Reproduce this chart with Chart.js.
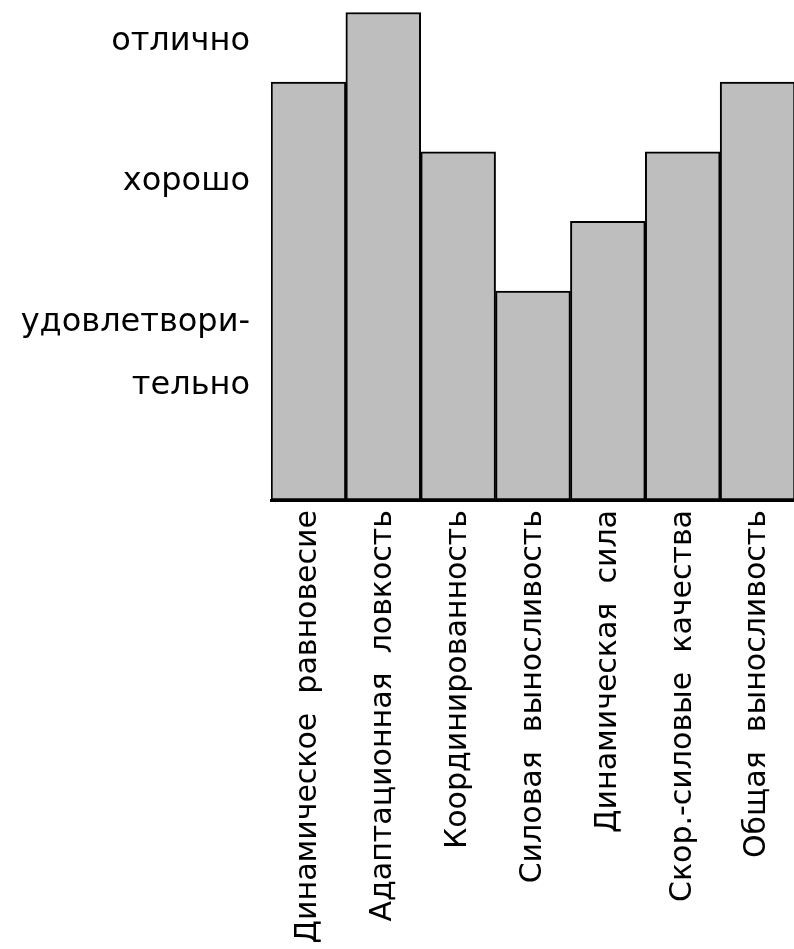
<!DOCTYPE html>
<html>
<head>
<meta charset="utf-8">
<script src="https://cdn.jsdelivr.net/npm/chart.js@4/dist/chart.umd.min.js"></script>
<style>
  html, body { margin: 0; padding: 0; background: #fff; overflow: hidden; }
  #wrap { width: 820px; height: 949px; }
</style>
</head>
<body>
<div id="wrap"><canvas id="chart" width="820" height="949"></canvas></div>
<script>
// качества и оценки
const categories = [
  'Динамическое  равновесие',
  'Адаптационная  ловкость',
  'Координированность',
  'Силовая  выносливость',
  'Динамическая  сила',
  'Скор.-силовые  качества',
  'Общая  выносливость'
];
const scores = [6, 7, 5, 3, 4, 5, 6];

// подписи оси оценок (снизу вверх)
const gradeTicks = [2.1, 4.57, 6.58];
const gradeLabels = [['удовлетвори-', 'тельно'], 'хорошо', 'отлично'];

const FONT = "'DejaVu Sans', sans-serif";

const ctx = document.getElementById('chart').getContext('2d');
new Chart(ctx, {
  type: 'bar',
  data: {
    labels: categories,
    datasets: [{
      data: scores,
      backgroundColor: '#bebebe',
      borderColor: '#000',
      borderWidth: 2,
      borderSkipped: false,
      barPercentage: 1,
      categoryPercentage: 1
    }]
  },
  options: {
    responsive: false,
    animation: false,
    layout: { padding: { top: 0, right: 25, left: 0, bottom: 0 } },
    plugins: { legend: { display: false }, tooltip: { enabled: false } },
    scales: {
      x: {
        grid: { display: false, drawTicks: false },
        border: { display: true, color: '#000', width: 3 },
        ticks: {
          autoSkip: false,
          maxRotation: 90,
          minRotation: 90,
          padding: 10,
          color: '#000',
          font: { family: FONT, size: 30 }
        },
        afterFit: s => { s.height = 449; s.paddingLeft = 0; s.paddingRight = 0; }
      },
      y: {
        min: 0,
        max: 7.18,
        grid: { display: false, drawTicks: false },
        border: { display: false },
        afterBuildTicks: s => { s.ticks = gradeTicks.map(v => ({ value: v })); },
        ticks: {
          padding: 21,
          color: '#000',
          font: { family: FONT, size: 32, lineHeight: 1.97 },
          callback: (v) => gradeLabels[gradeTicks.indexOf(v)]
        },
        afterFit: s => { s.width = 271; s.paddingTop = 0; s.paddingBottom = 0; }
      }
    }
  }
});
</script>
</body>
</html>
